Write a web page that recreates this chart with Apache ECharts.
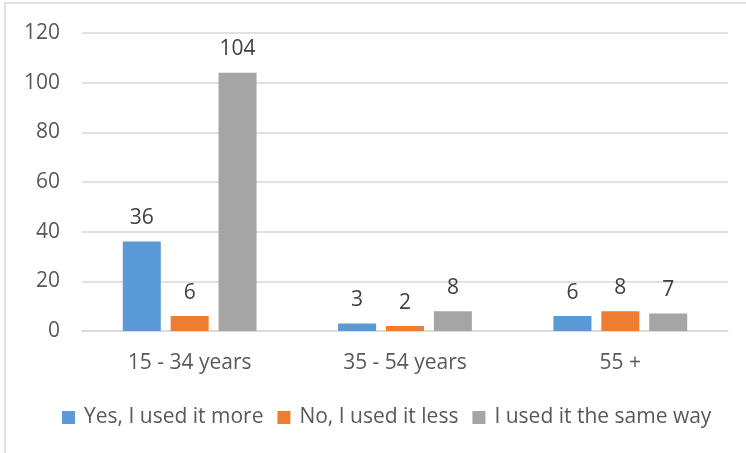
<!DOCTYPE html>
<html>
<head>
<meta charset="utf-8">
<script src="https://cdn.jsdelivr.net/npm/echarts@6/dist/echarts.min.js"></script>
<style>html,body{margin:0;padding:0;background:#fff;}#c{width:746px;height:453px;}</style>
</head>
<body>
<div id="c"></div>
<script>
const categories = ['15 - 34 years', '35 - 54 years', '55 +'];
const seriesNames = ['Yes, I used it more', 'No, I used it less', 'I used it the same way'];
const moreValues = [36, 3, 6];
const lessValues = [6, 2, 8];
const sameValues = [104, 8, 7];
const yTicks = { min: 0, max: 120, interval: 20 };
const colors = ['#5B9BD5', '#ED7D31', '#A5A5A5'];

const font = '"Open Sans", sans-serif';
const chart = echarts.init(document.getElementById('c'), null, { renderer: 'canvas' });
function mk(name, data, color) {
  return {
    name: name, type: 'bar', data: data, barWidth: 38, barGap: '26%',
    itemStyle: { color: color },
    label: { show: true, position: 'top', distance: 13, color: '#404040', fontSize: 21, fontFamily: font },
    emphasis: { disabled: true }
  };
}
chart.setOption({
  animation: false,
  color: colors,
  graphic: [{
    type: 'rect', shape: { x: 5, y: 3, width: 800, height: 500 },
    style: { fill: 'none', stroke: '#d9d9d9', lineWidth: 1.5 }, silent: true
  }],
  grid: { left: 82, right: 18, top: 33, bottom: 122, containLabel: false },
  legend: {
    data: seriesNames, left: 62, top: 407, padding: 0, itemWidth: 13, itemHeight: 13, itemGap: 14,
    icon: 'rect',
    textStyle: { color: '#595959', fontSize: 21, fontFamily: font, padding: [0, 0, 0, 4] }
  },
  xAxis: {
    type: 'category', data: categories,
    axisLine: { lineStyle: { color: '#d9d9d9', width: 1.5 } },
    axisTick: { show: false },
    axisLabel: { color: '#595959', fontSize: 21, fontFamily: font, margin: 22 }
  },
  yAxis: {
    type: 'value', min: yTicks.min, max: yTicks.max, interval: yTicks.interval,
    axisLine: { show: false }, axisTick: { show: false },
    splitLine: { lineStyle: { color: '#d9d9d9', width: 1.5 } },
    axisLabel: { color: '#595959', fontSize: 21, fontFamily: font, margin: 22 }
  },
  series: [
    mk(seriesNames[0], moreValues, colors[0]),
    mk(seriesNames[1], lessValues, colors[1]),
    mk(seriesNames[2], sameValues, colors[2])
  ]
});
</script>
</body>
</html>
